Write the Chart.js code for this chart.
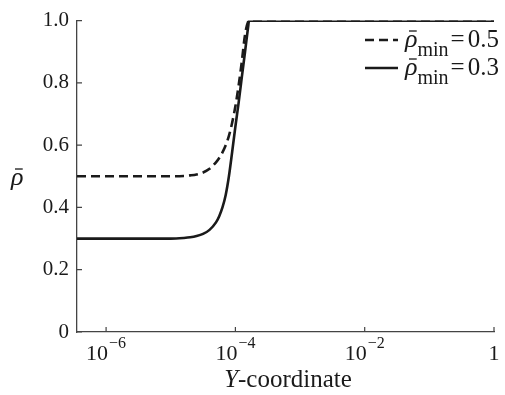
<!DOCTYPE html>
<html>
<head>
<meta charset="utf-8">
<script src="https://cdn.jsdelivr.net/npm/chart.js@4/dist/chart.umd.min.js"></script>
<style>
  html, body { margin: 0; padding: 0; background: #fff; }
  #wrap { width: 505px; height: 395px; }
</style>
</head>
<body>
<div id="wrap"><canvas id="chart"></canvas></div>
<script>
// Y-coordinate (log scale) and the two density curves
const yCoord = [3.55e-7, 1e-6, 3.16e-6, 1e-5, 1.585e-5, 2e-5, 2.51e-5, 3.16e-5, 3.98e-5, 5.01e-5,
                5.62e-5, 6.31e-5, 7.08e-5, 7.94e-5, 8.91e-5, 1e-4, 1.12e-4, 1.26e-4, 1.41e-4,
                1.585e-4, 1.62e-4, 3.16e-4, 1e-2, 1];
const rhoMin05 = [0.5, 0.5, 0.5, 0.5, 0.501, 0.503, 0.506, 0.512, 0.524, 0.545,
                  0.559, 0.577, 0.60, 0.63, 0.672, 0.725, 0.79, 0.87, 0.955,
                  0.998, 1, 1, 1, 1];
const rhoMin03 = [0.3, 0.3, 0.3, 0.3, 0.302, 0.304, 0.308, 0.315, 0.328, 0.352,
                  0.372, 0.40, 0.44, 0.50, 0.578, 0.66, 0.735, 0.82, 0.90,
                  0.985, 1, 1, 1, 1];
const legendValues = ['0.5', '0.3'];
const xTickValues = [1e-6, 1e-4, 1e-2, 1];
const yTickValues = [0, 0.2, 0.4, 0.6, 0.8, 1.0];

const ink = '#1a1a1a';
const axisColor = '#444';
const serif = '"Liberation Serif", "DejaVu Serif", serif';

function toPoints(ys) {
    return yCoord.map((x, i) => ({ x: x, y: ys[i] }));
}

// draws rho with a bar on top, returns the width used
function drawRhoBar(ctx, x, baseline, size) {
    ctx.font = 'italic ' + size + 'px ' + serif;
    ctx.textAlign = 'left';
    ctx.textBaseline = 'alphabetic';
    ctx.fillText('\u03C1', x, baseline);
    const w = ctx.measureText('\u03C1').width;
    ctx.fillRect(x + w * 0.32, baseline - size * 0.64, w * 0.62, Math.max(1, size * 0.05));
    return w;
}

const decorPlugin = {
    id: 'decor',
    afterDraw(chart) {
        const ctx = chart.ctx;
        const xs = chart.scales.x;
        const ys = chart.scales.y;
        const area = chart.chartArea;
        ctx.save();

        // inward tick marks
        ctx.strokeStyle = axisColor;
        ctx.lineWidth = 1.2;
        ctx.beginPath();
        yTickValues.forEach(v => {
            const py = ys.getPixelForValue(v);
            ctx.moveTo(area.left, py);
            ctx.lineTo(area.left + 5, py);
        });
        xTickValues.forEach(v => {
            const px = xs.getPixelForValue(v);
            ctx.moveTo(px, area.bottom);
            ctx.lineTo(px, area.bottom - 5);
        });
        ctx.stroke();

        // x tick labels as powers of ten
        ctx.fillStyle = ink;
        ctx.textBaseline = 'alphabetic';
        ctx.textAlign = 'left';
        xTickValues.forEach(v => {
            const px = xs.getPixelForValue(v);
            const e = Math.round(Math.log10(v));
            ctx.font = '22px ' + serif;
            if (e === 0) {
                const w = ctx.measureText('1').width;
                ctx.fillText('1', px - w / 2, 360);
                return;
            }
            const wBase = ctx.measureText('10').width;
            ctx.font = '16px ' + serif;
            const sup = '\u2212' + Math.abs(e);
            const wSup = ctx.measureText(sup).width;
            const start = px - (wBase + wSup + 1) / 2;
            ctx.font = '22px ' + serif;
            ctx.fillText('10', start, 360);
            ctx.font = '16px ' + serif;
            ctx.fillText(sup, start + wBase + 1, 348);
        });

        // x axis title with italic Y
        ctx.font = 'italic 25px ' + serif;
        const wY = ctx.measureText('Y').width;
        ctx.font = '25px ' + serif;
        const wRest = ctx.measureText('-coordinate').width;
        const tx = 288 - (wY + wRest) / 2;
        ctx.font = 'italic 25px ' + serif;
        ctx.fillText('Y', tx, 387);
        ctx.font = '25px ' + serif;
        ctx.fillText('-coordinate', tx + wY, 387);

        // y axis label
        drawRhoBar(ctx, 11, 185, 26);

        // legend
        chart.data.datasets.forEach((ds, i) => {
            const cy = 40 + i * 28;
            ctx.strokeStyle = ink;
            ctx.lineWidth = 2.6;
            ctx.setLineDash(ds.borderDash || []);
            ctx.beginPath();
            ctx.moveTo(365, cy);
            ctx.lineTo(398, cy);
            ctx.stroke();
            ctx.setLineDash([]);
            ctx.fillStyle = ink;
            const base = cy + 7;
            let x = 405;
            x += drawRhoBar(ctx, x, base, 26);
            ctx.font = '20px ' + serif;
            ctx.fillText('min', x, base + 9);
            x += ctx.measureText('min').width + 2;
            ctx.font = '25px ' + serif;
            ctx.fillText('=', x, base);
            x += ctx.measureText('=').width + 3;
            ctx.fillText(legendValues[i], x, base);
        });
        ctx.restore();
    }
};

new Chart(document.getElementById('chart'), {
    type: 'line',
    data: {
        datasets: [
            {
                label: 'rho_min = 0.5',
                data: toPoints(rhoMin05),
                borderColor: ink,
                borderWidth: 2.6,
                borderDash: [9, 5],
                pointRadius: 0,
                cubicInterpolationMode: 'monotone'
            },
            {
                label: 'rho_min = 0.3',
                data: toPoints(rhoMin03),
                borderColor: ink,
                borderWidth: 2.6,
                pointRadius: 0,
                cubicInterpolationMode: 'monotone'
            }
        ]
    },
    options: {
        responsive: true,
        maintainAspectRatio: false,
        animation: false,
        devicePixelRatio: 1,
        layout: { padding: { top: 15, right: 11, left: 0, bottom: 0 } },
        plugins: {
            legend: { display: false },
            tooltip: { enabled: false }
        },
        scales: {
            x: {
                type: 'logarithmic',
                min: Math.pow(10, -6.45),
                max: 1,
                afterBuildTicks: scale => {
                    scale.ticks = xTickValues.map(v => ({ value: v }));
                },
                afterFit: scale => { scale.height = 63; },
                ticks: { display: false },
                grid: { drawOnChartArea: false, drawTicks: false },
                border: { display: true, color: axisColor, width: 1.3 }
            },
            y: {
                min: 0,
                max: 1,
                afterBuildTicks: scale => {
                    scale.ticks = yTickValues.map(v => ({ value: v }));
                },
                afterFit: scale => { scale.width = 77; },
                ticks: {
                    color: ink,
                    padding: 8,
                    font: { family: serif, size: 21 },
                    callback: v => (v === 0 ? '0' : v.toFixed(1))
                },
                grid: { drawOnChartArea: false, drawTicks: false },
                border: { display: true, color: axisColor, width: 1.3 }
            }
        }
    },
    plugins: [decorPlugin]
});
</script>
</body>
</html>
